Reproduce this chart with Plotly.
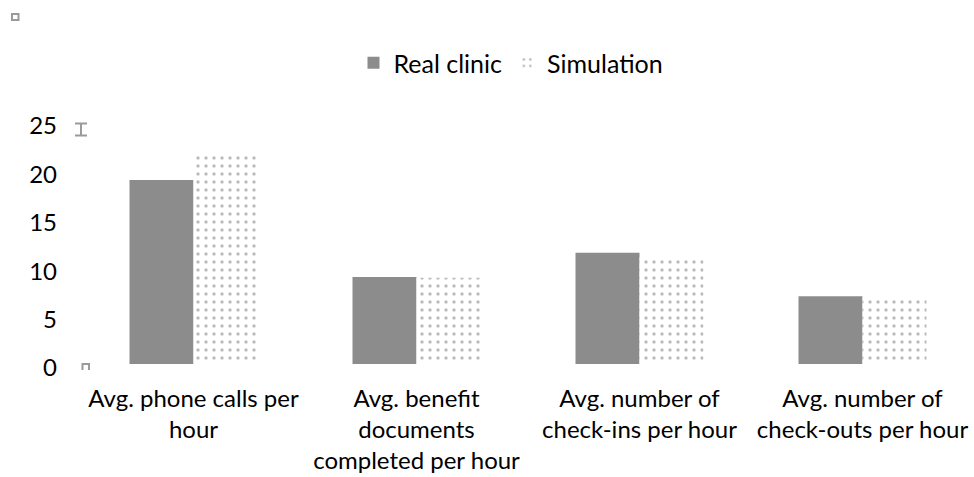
import plotly.graph_objects as go

categories = [
    "Avg. phone calls per<br>hour",
    "Avg. benefit<br>documents<br>completed per hour",
    "Avg. number of<br>check-ins per hour",
    "Avg. number of<br>check-outs per hour",
]
real_clinic = [19.0, 9.0, 11.5, 7.0]
simulation = [21.9, 8.9, 11.0, 6.9]
y_ticks = [0, 5, 10, 15, 20, 25]

FONT = "Lato, 'Open Sans', sans-serif"
GRAY = "#8c8c8c"

fig = go.Figure()
fig.add_trace(go.Bar(
    name="Real clinic", x=categories, y=real_clinic,
    marker=dict(color=GRAY, line=dict(width=0)),
))
fig.add_trace(go.Bar(
    name="Simulation", x=categories, y=simulation,
    marker=dict(color="white", line=dict(width=0),
                pattern=dict(shape=".", fgcolor="#7a7a7a", bgcolor="white",
                             size=8, solidity=0.14)),
))

W, H = 974, 477
L, R, T, B = 82, 0, 122, 113
pw, ph = W - L - R, H - T - B

def px(x):
    return (x - L) / pw

def py(y):
    return (H - B - y) / ph

shapes = [
    dict(type="rect", xref="paper", yref="paper",
         x0=px(12), x1=px(18.5), y0=py(20), y1=py(14),
         line=dict(color="#9a9a9a", width=2), fillcolor="white"),
    dict(type="path", xref="paper", yref="paper",
         path=f"M{px(75)},{py(123.5)} L{px(87)},{py(123.5)} M{px(81)},{py(123.5)} L{px(81)},{py(135.5)} M{px(75)},{py(135.5)} L{px(87)},{py(135.5)}",
         line=dict(color="#9a9a9a", width=2)),
    dict(type="path", xref="paper", yref="paper",
         path=f"M{px(82.5)},{py(370)} L{px(82.5)},{py(364)} L{px(89)},{py(364)} L{px(89)},{py(370)}",
         line=dict(color="#9a9a9a", width=2)),
]

fig.update_layout(
    width=W, height=H,
    margin=dict(l=L, r=R, t=T, b=B, pad=0),
    paper_bgcolor="white", plot_bgcolor="white",
    font=dict(family=FONT, size=24, color="#000000"),
    barmode="group", bargap=0.426, bargroupgap=0,
    showlegend=True,
    legend=dict(orientation="h", x=px(511), xanchor="center",
                y=py(63), yanchor="middle",
                font=dict(size=25), itemwidth=30,
                bgcolor="rgba(0,0,0,0)"),
    xaxis=dict(showline=False, showgrid=False, zeroline=False, ticks="",
               tickfont=dict(size=24), ticklabelstandoff=18, automargin=False),
    yaxis=dict(range=[0, 25], tickvals=y_ticks, showline=False, showgrid=False,
               zeroline=False, ticks="", tickfont=dict(size=24),
               ticklabelstandoff=24, ticklabelshift=4, automargin=False),
    shapes=shapes,
)

fig.write_html("out.html", config={"displayModeBar": False},
               post_script="document.body.style.margin='0';")
